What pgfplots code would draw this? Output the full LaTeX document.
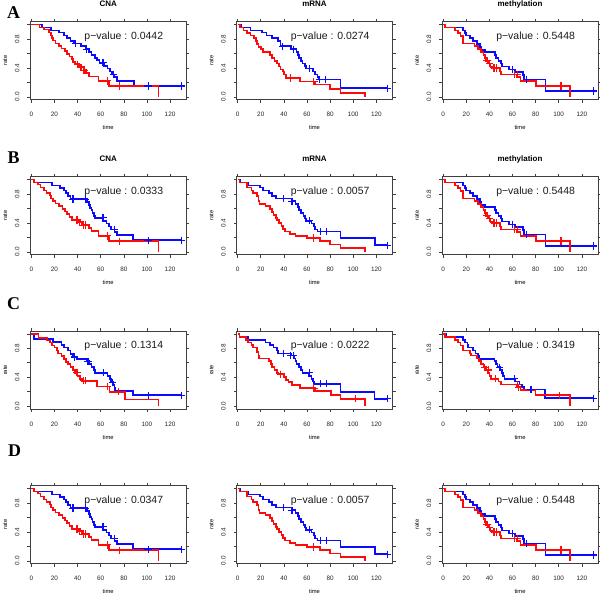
\documentclass[border=0pt]{standalone}
\usepackage{pgfplots}
\usepackage{pgfplotstable}
\pgfplotsset{compat=1.18}
\usepackage{fontspec}
\setmainfont{Liberation Sans}
\newfontfamily\lettfont{Liberation Serif}
\definecolor{kmblue}{RGB}{10,10,255}
\definecolor{kmred}{RGB}{255,10,10}

% ---------- CNA A ----------
\pgfplotstableread{
x y
0 1.0
9 0.96
17 0.92
24 0.89
28 0.85
31 0.81
34 0.77
37 0.74
43 0.70
47 0.66
50 0.62
52 0.58
55 0.54
57 0.51
59 0.47
63 0.43
66 0.39
68 0.35
70 0.31
72 0.27
74 0.22
89 0.15
130 0.15
}\cAb
\pgfplotstableread{
x y
38 0.74
48 0.66
62 0.47
71 0.31
101 0.15
130 0.15
}\cAbc
\pgfplotstableread{
x y
0 1.0
7 0.96
11 0.93
15 0.89
17 0.85
18 0.81
19 0.78
21 0.74
24 0.70
26 0.67
29 0.63
31 0.59
33 0.56
35 0.52
36 0.48
38 0.45
41 0.41
45 0.37
47 0.33
50 0.28
58 0.22
67 0.15
110 0.0
}\cAr
\pgfplotstableread{
x y
40 0.45
43 0.41
45 0.37
46 0.37
66 0.22
76 0.15
}\cArc
% ---------- mRNA A ----------
\pgfplotstableread{
x y
0 1.0
3 0.96
11 0.92
21 0.89
25 0.85
30 0.81
35 0.77
37 0.70
46 0.66
51 0.62
52 0.58
53 0.54
55 0.50
56 0.46
58 0.43
59 0.39
65 0.35
67 0.31
69 0.27
70 0.24
89 0.12
130 0.12
}\mAb
\pgfplotstableread{
x y
39 0.70
48 0.66
62 0.39
71 0.24
76 0.24
130 0.12
}\mAbc
\pgfplotstableread{
x y
0 1.0
2 0.96
5 0.92
8 0.88
11 0.85
14 0.81
16 0.77
17 0.73
18 0.69
20 0.66
22 0.62
28 0.58
30 0.54
32 0.50
34 0.46
36 0.42
37 0.38
39 0.35
40 0.31
42 0.26
54 0.21
67 0.17
80 0.11
89 0.05
110 0.0
}\mAr
\pgfplotstableread{
x y
46 0.26
66 0.21
}\mArc
% ---------- methylation A/B/D ----------
\pgfplotstableread{
x y
0 1.0
2 0.96
17 0.92
19 0.88
20 0.85
23 0.81
26 0.77
29 0.73
32 0.69
33 0.65
36 0.62
45 0.58
46 0.54
48 0.50
50 0.46
51 0.42
57 0.38
62 0.34
69 0.30
70 0.24
88.5 0.08
130 0.08
}\eb
\pgfplotstableread{
x y
60 0.38
72 0.24
130 0.08
}\ebc
\pgfplotstableread{
x y
0 1.0
1.5 0.96
10 0.92
13 0.88
15 0.84
17 0.74
27 0.70
30 0.66
33 0.62
35 0.58
36 0.54
37 0.50
39 0.46
41 0.42
42 0.40
49 0.35
50 0.31
64 0.27
67 0.22
80.5 0.15
110 0.0
}\er
\pgfplotstableread{
x y
38 0.50
40 0.46
44 0.40
46 0.40
62 0.31
64 0.31
102 0.15
}\erc
% ---------- CNA B/D ----------
\pgfplotstableread{
x y
0 1.0
2 0.96
18 0.92
25 0.88
28 0.85
30 0.81
32 0.77
34 0.73
48 0.69
50 0.65
51 0.61
52 0.58
53 0.54
54 0.50
55 0.47
62 0.43
65 0.39
67 0.35
69 0.31
72 0.27
74 0.23
88 0.16
130 0.16
}\cBb
\pgfplotstableread{
x y
36 0.73
47 0.73
62 0.47
72 0.31
101 0.16
130 0.16
}\cBbc
\pgfplotstableread{
x y
0 1.0
2 0.96
6 0.93
8 0.89
11 0.85
13 0.81
16 0.78
17 0.74
19 0.70
21 0.67
24 0.63
27 0.59
29 0.56
31 0.52
33 0.48
35 0.44
41 0.41
44 0.37
50 0.33
52 0.29
58 0.22
67 0.145
110 0.0
}\cBr
\pgfplotstableread{
x y
39.5 0.44
42 0.41
45 0.37
47 0.37
66 0.22
76 0.145
}\cBrc
% ---------- mRNA B/D ----------
\pgfplotstableread{
x y
0 1.0
2 0.96
9 0.92
19.5 0.89
22 0.85
27 0.81
30 0.77
33 0.74
47 0.70
50 0.66
52 0.62
53 0.58
55 0.54
57 0.50
58 0.46
59 0.43
64 0.39
66 0.35
67 0.31
69 0.28
89 0.19
119 0.09
130 0.09
}\mBb
\pgfplotstableread{
x y
40 0.74
47 0.70
62 0.43
71.5 0.28
76.5 0.28
130 0.09
}\mBbc
\pgfplotstableread{
x y
0 1.0
1.5 0.96
8 0.89
12 0.85
13.5 0.81
17 0.77
18 0.70
19 0.66
24 0.63
28 0.59
30 0.55
31 0.51
33 0.47
34 0.44
36 0.40
38 0.36
39 0.32
41 0.28
45.5 0.25
50 0.22
60 0.19
71.5 0.15
80 0.10
89 0.05
110 0.0
}\mBr
\pgfplotstableread{
x y
66 0.19
}\mBrc
% ---------- CNA C ----------
\pgfplotstableread{
x y
0 1.0
2 0.93
19 0.89
26 0.85
28 0.81
32 0.77
34 0.72
36 0.68
39 0.65
48 0.62
50 0.58
52 0.54
54 0.50
55 0.46
66 0.42
68 0.38
69 0.33
71 0.29
72 0.25
72.5 0.21
88 0.15
130 0.15
}\cCb
\pgfplotstableread{
x y
37 0.68
49 0.62
62.5 0.46
70 0.33
101 0.15
130 0.15
}\cCbc
\pgfplotstableread{
x y
0 1.0
6.3 0.94
13.5 0.91
16 0.88
18 0.84
20 0.81
22 0.77
23 0.73
26 0.69
28 0.65
30 0.61
32 0.58
34 0.54
36 0.50
38 0.46
40 0.42
42 0.38
44 0.35
57 0.27
67.5 0.20
81 0.09
110 0.0
}\cCr
\pgfplotstableread{
x y
39.5 0.46
45 0.35
47 0.35
66 0.27
75.5 0.20
}\cCrc
% ---------- mRNA C ----------
\pgfplotstableread{
x y
0 1.0
1.5 0.96
9 0.92
24 0.88
28 0.85
31 0.81
34 0.77
35 0.73
46 0.70
49 0.66
50 0.62
51 0.58
53 0.54
55 0.50
56 0.46
62 0.42
64 0.38
65 0.34
66 0.31
89 0.20
118.5 0.10
130 0.10
}\mCb
\pgfplotstableread{
x y
40 0.73
46 0.70
48.5 0.70
62 0.46
71.5 0.31
77 0.31
130 0.10
}\mCbc
\pgfplotstableread{
x y
0 1.0
1.5 0.96
7 0.92
9 0.88
12 0.85
13.5 0.81
17 0.75
18 0.70
18.5 0.66
27 0.62
29 0.58
30 0.54
32 0.50
34 0.46
35 0.44
40 0.40
42 0.36
44 0.33
47 0.29
54 0.25
67 0.21
81 0.15
89 0.10
110 0.0
}\mCr
\pgfplotstableread{
x y
37 0.44
66 0.25
102 0.10
}\mCrc
% ---------- methylation C ----------
\pgfplotstableread{
x y
0 1.0
3 0.96
17 0.92
19 0.88
21 0.85
21.5 0.81
26 0.77
28 0.73
30 0.69
31 0.65
44.5 0.62
46 0.58
47 0.54
49 0.50
51 0.46
52 0.42
53 0.38
62 0.34
66 0.30
68 0.26
70 0.23
88 0.11
130 0.11
}\eCb
\pgfplotstableread{
x y
49 0.54
62 0.38
76 0.23
130 0.11
}\eCbc
\pgfplotstableread{
x y
0 1.0
1.5 0.96
10 0.92
13 0.88
15 0.84
17 0.77
23 0.73
24 0.70
29 0.66
31 0.62
33 0.58
35 0.54
37 0.50
39 0.46
40 0.42
41.5 0.38
48 0.34
50 0.30
64 0.26
67 0.22
80 0.15
110 0.0
}\eCr
\pgfplotstableread{
x y
36 0.54
39 0.50
45 0.38
64 0.30
65.5 0.26
101 0.15
}\eCrc

\pgfplotsset{km/.style={
  scale only axis, width=156bp, height=78bp,
  xmin=-1, xmax=134, ymin=-0.04, ymax=1.04,
  xtick={0,20,40,60,80,100,120},
  xticklabels={0,20,40,60,80,100,120},
  ytick={0,0.2,0.4,0.6,0.8,1.0},
  yticklabels={0.0,,0.4,,0.8,},
  tick align=outside, major tick length=3bp,
  axis line style={black!75, line width=0.7bp},
  every tick/.style={black!75, line width=0.6bp},
  tick label style={font=\fontsize{6.4}{7}\selectfont, text=black!85},
  xticklabel style={anchor=center, yshift=-12bp},
  yticklabel style={rotate=90, anchor=center, yshift=10bp},
  xlabel={time}, ylabel={rate},
  xlabel style={at={(axis description cs:0.5,0)}, anchor=center, yshift=-28bp, font=\fontsize{5.8}{6}\selectfont},
  ylabel style={at={(axis description cs:0,0.5)}, anchor=center, yshift=25bp, font=\fontsize{5.8}{6}\selectfont},
  title style={at={(axis description cs:0.5,1)}, anchor=center, yshift=11.5bp, font=\bfseries\fontsize{8}{9}\selectfont},
  clip=false, anchor=north west,
  /pgf/number format/assume math mode=true,
}}

\newcommand{\km}[8]{%
\begin{axis}[km, at={(#1,#2)}, title={#3}]
\addplot[draw=kmblue, const plot, line width=1.7bp, mark=none] table {#4};
\addplot[draw=kmred, const plot, line width=1.7bp, mark=none] table {#6};
\addplot[kmblue, only marks, mark=+, mark size=3.6bp, mark options={draw=kmblue, line width=1.1bp, solid}] table {#5};
\addplot[kmred, only marks, mark=+, mark size=3.6bp, mark options={draw=kmred, line width=1.1bp, solid}] table {#7};
\node[font=\fontsize{10.5}{11}\selectfont, text=black!90] at (axis cs:80,0.83) {p−value : #8};
\end{axis}}

\begin{document}
\begin{tikzpicture}
\useasboundingbox (0,0) rectangle (600bp,595bp);
% row A
\km{30.2bp}{573.3bp}{CNA}{\cAb}{\cAbc}{\cAr}{\cArc}{0.0442}
\km{236.5bp}{573.3bp}{mRNA}{\mAb}{\mAbc}{\mAr}{\mArc}{0.0274}
\km{442bp}{573.3bp}{methylation}{\eb}{\ebc}{\er}{\erc}{0.5448}
% row B
\km{30.2bp}{418.3bp}{CNA}{\cBb}{\cBbc}{\cBr}{\cBrc}{0.0333}
\km{236.5bp}{418.3bp}{mRNA}{\mBb}{\mBbc}{\mBr}{\mBrc}{0.0057}
\km{442bp}{418.3bp}{methylation}{\eb}{\ebc}{\er}{\erc}{0.5448}
% row C
\km{30.2bp}{264bp}{}{\cCb}{\cCbc}{\cCr}{\cCrc}{0.1314}
\km{236.5bp}{264bp}{}{\mCb}{\mCbc}{\mCr}{\mCrc}{0.0222}
\km{442bp}{264bp}{}{\eCb}{\eCbc}{\eCr}{\eCrc}{0.3419}
% row D
\km{30.2bp}{109.3bp}{}{\cBb}{\cBbc}{\cBr}{\cBrc}{0.0347}
\km{236.5bp}{109.3bp}{}{\mBb}{\mBbc}{\mBr}{\mBrc}{0.0057}
\km{442bp}{109.3bp}{}{\eb}{\ebc}{\er}{\erc}{0.5448}
% panel letters
\node[font=\lettfont\bfseries\fontsize{18}{18}\selectfont] at (13.5bp,582.7bp) {A};
\node[font=\lettfont\bfseries\fontsize{18}{18}\selectfont] at (13.7bp,437.2bp) {B};
\node[font=\lettfont\bfseries\fontsize{18}{18}\selectfont] at (13.7bp,291bp) {C};
\node[font=\lettfont\bfseries\fontsize{18}{18}\selectfont] at (14.5bp,144.2bp) {D};
\end{tikzpicture}
\end{document}
